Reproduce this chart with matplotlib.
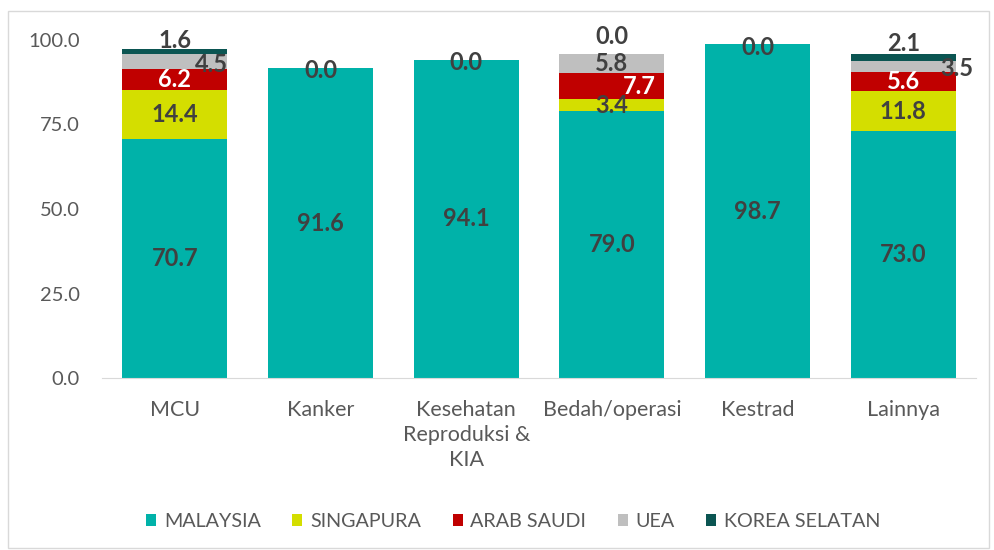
import numpy as np
import matplotlib
matplotlib.use('Agg')
import matplotlib.pyplot as plt
from matplotlib.patches import Rectangle

plt.rcParams['font.family'] = ['Lato', 'DejaVu Sans']

categories = ['MCU', 'Kanker', 'Kesehatan\nReproduksi &\nKIA', 'Bedah/operasi', 'Kestrad', 'Lainnya']
series_names = ['MALAYSIA', 'SINGAPURA', 'ARAB SAUDI', 'UEA', 'KOREA SELATAN']
malaysia = [70.7, 91.6, 94.1, 79.0, 98.7, 73.0]
singapura = [14.4, 0.0, 0.0, 3.4, 0.0, 11.8]
arab_saudi = [6.2, 0.0, 0.0, 7.7, 0.0, 5.6]
uea = [4.5, 0.0, 0.0, 5.8, 0.0, 3.5]
korea = [1.6, 0.0, 0.0, 0.0, 0.0, 2.1]
yticks = [0, 25, 50, 75, 100]

colors = ['#00B2A9', '#D4DE00', '#C00000', '#BFBFBF', '#0B5552']
label_colors = ['#404040', '#404040', 'white', '#404040', '#404040']

# manual label nudges (data units), like the hand-moved labels in the original
dx = {(3, 0): 0.25, (2, 3): 0.19, (3, 5): 0.37}
dy = {(4, 0): 3.3, (4, 1): -0.5, (4, 2): -0.9, (4, 3): 5.0, (4, 4): -0.8, (4, 5): 4.0,
      (3, 0): -0.8, (3, 5): -0.5}

data = [malaysia, singapura, arab_saudi, uea, korea]
x = np.arange(len(categories))

fig = plt.figure(figsize=(9.95, 5.5), dpi=100)
ax = fig.add_axes([0.1025, 0.3127, 0.8785, 0.6146])

bottom = np.zeros(len(categories))
for s, vals in enumerate(data):
    vals = np.array(vals)
    ax.bar(x, vals, 0.72, bottom=bottom, color=colors[s], label=series_names[s], zorder=2)
    for i, v in enumerate(vals):
        show = s == 0 or s == 4 or v > 0
        if show:
            xc = x[i] + dx.get((s, i), 0)
            yc = bottom[i] + v / 2 + dy.get((s, i), 0)
            ax.text(xc, yc, f'{v:.1f}', ha='center', va='center', fontsize=17,
                    fontweight='bold', color=label_colors[s], clip_on=False, zorder=3)
    bottom = bottom + vals

ax.set_xlim(-0.5, len(categories) - 0.5)
ax.set_ylim(0, 100)
ax.set_yticks(yticks)
ax.set_yticklabels([f'{t:.1f}' for t in yticks])
ax.set_xticks(x)
ax.set_xticklabels(categories, linespacing=1.3)
ax.tick_params(axis='both', length=0, labelcolor='#595959')
ax.tick_params(axis='x', pad=16, labelsize=15.5)
ax.tick_params(axis='y', pad=16, labelsize=14.5)
for side in ['top', 'right', 'left']:
    ax.spines[side].set_visible(False)
ax.spines['bottom'].set_color('#D9D9D9')

leg = fig.legend(loc='center', bbox_to_anchor=(0.516, 0.052), ncol=5, frameon=False,
                 fontsize=14.2, handlelength=0.5, handleheight=0.5, handletextpad=0.4,
                 columnspacing=1.6)
for t in leg.get_texts():
    t.set_color('#595959')

fig.patches.append(Rectangle((8 / 995, 2 / 550), 981 / 995, 537 / 550, transform=fig.transFigure,
                             fill=False, edgecolor='#D9D9D9', linewidth=1))

fig.savefig('out.png', dpi=100)
